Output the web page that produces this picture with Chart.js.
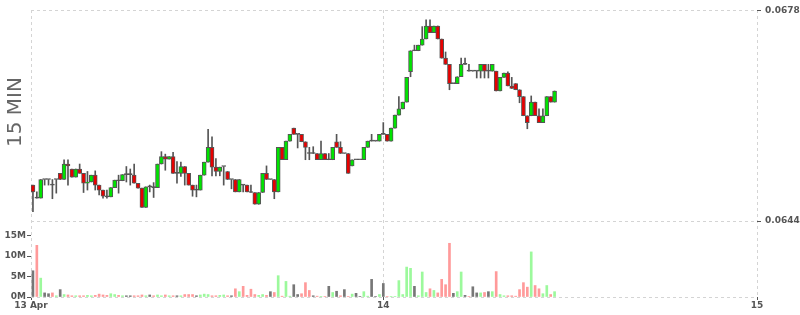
<!DOCTYPE html>
<html>
<head>
<meta charset="utf-8">
<script src="https://cdn.jsdelivr.net/npm/chart.js@4.4.1/dist/chart.umd.min.js"></script>
<style>
  html, body { margin:0; padding:0; background:#fff; }
</style>
</head>
<body>
<canvas id="chart" width="800" height="315"></canvas>
<script>
// 15 minute candles, first one 13 Apr 01:30 (hours counted from 13 Apr 00:00)
const startHour = 1.5;
const stepHours = 0.25;

const dayTicks = [1.375, 24, 48];
const dayLabels = ['13 Apr', '14', '15'];
const priceTicks = [0.0644, 0.0678];
const volumeTicks = [0, 5, 10, 15];

const open = [
  0.06498, 0.06477, 0.06477, 0.06507, 0.06507, 0.06498, 0.06507, 0.06517, 0.06507, 0.06532,
  0.06524, 0.06511, 0.06524, 0.06517, 0.06501, 0.06503, 0.06514, 0.06498, 0.06490, 0.06479,
  0.06479, 0.06494, 0.06505, 0.06505, 0.06515, 0.06515, 0.06514, 0.06501, 0.06493, 0.06462,
  0.06495, 0.06494, 0.06494, 0.06532, 0.06544, 0.06540, 0.06544, 0.06517, 0.06517, 0.06528,
  0.06517, 0.06498, 0.06490, 0.06490, 0.06514, 0.06535, 0.06559, 0.06527, 0.06520, 0.06528,
  0.06520, 0.06507, 0.06507, 0.06487, 0.06498, 0.06498, 0.06486, 0.06486, 0.06467, 0.06486,
  0.06517, 0.06507, 0.06507, 0.06487, 0.06559, 0.06539, 0.06569, 0.06590, 0.06580, 0.06580,
  0.06568, 0.06549, 0.06549, 0.06549, 0.06539, 0.06549, 0.06539, 0.06539, 0.06568, 0.06559,
  0.06549, 0.06549, 0.06529, 0.06539, 0.06539, 0.06539, 0.06559, 0.06569, 0.06569, 0.06569,
  0.06580, 0.06580, 0.06569, 0.06590, 0.06611, 0.06621, 0.06632, 0.06681, 0.06715, 0.06715,
  0.06724, 0.06734, 0.06755, 0.06744, 0.06755, 0.06734, 0.06703, 0.06693, 0.06662, 0.06662,
  0.06673, 0.06693, 0.06682, 0.06682, 0.06682, 0.06682, 0.06693, 0.06682, 0.06682, 0.06682,
  0.06650, 0.06672, 0.06679, 0.06658, 0.06662, 0.06652, 0.06641, 0.06610, 0.06610, 0.06632,
  0.06610, 0.06599, 0.06610, 0.06641, 0.06632
];
const high = [
  0.06498, 0.06487, 0.06507, 0.06507, 0.06507, 0.06507, 0.06507, 0.06517, 0.06539, 0.06539,
  0.06524, 0.06524, 0.06532, 0.06517, 0.06520, 0.06514, 0.06521, 0.06498, 0.06490, 0.06490,
  0.06494, 0.06506, 0.06514, 0.06515, 0.06528, 0.06524, 0.06532, 0.06501, 0.06493, 0.06495,
  0.06498, 0.06502, 0.06532, 0.06552, 0.06548, 0.06544, 0.06551, 0.06536, 0.06535, 0.06528,
  0.06517, 0.06498, 0.06498, 0.06514, 0.06535, 0.06588, 0.06576, 0.06541, 0.06527, 0.06528,
  0.06520, 0.06507, 0.06507, 0.06507, 0.06498, 0.06498, 0.06498, 0.06486, 0.06486, 0.06517,
  0.06529, 0.06507, 0.06507, 0.06559, 0.06559, 0.06569, 0.06580, 0.06590, 0.06580, 0.06580,
  0.06568, 0.06559, 0.06560, 0.06549, 0.06569, 0.06549, 0.06549, 0.06559, 0.06580, 0.06568,
  0.06549, 0.06549, 0.06539, 0.06539, 0.06539, 0.06559, 0.06569, 0.06580, 0.06569, 0.06580,
  0.06599, 0.06580, 0.06590, 0.06611, 0.06641, 0.06632, 0.06672, 0.06715, 0.06724, 0.06724,
  0.06754, 0.06765, 0.06765, 0.06755, 0.06755, 0.06734, 0.06713, 0.06693, 0.06662, 0.06673,
  0.06703, 0.06703, 0.06693, 0.06682, 0.06682, 0.06693, 0.06693, 0.06693, 0.06693, 0.06682,
  0.06672, 0.06679, 0.06681, 0.06672, 0.06662, 0.06652, 0.06641, 0.06610, 0.06642, 0.06632,
  0.06621, 0.06621, 0.06641, 0.06641, 0.06650
];
const low = [
  0.06455, 0.06477, 0.06477, 0.06498, 0.06498, 0.06476, 0.06485, 0.06507, 0.06507, 0.06498,
  0.06511, 0.06511, 0.06517, 0.06486, 0.06490, 0.06503, 0.06490, 0.06482, 0.06477, 0.06477,
  0.06479, 0.06494, 0.06485, 0.06505, 0.06503, 0.06498, 0.06501, 0.06493, 0.06462, 0.06462,
  0.06487, 0.06478, 0.06494, 0.06532, 0.06522, 0.06540, 0.06517, 0.06501, 0.06512, 0.06498,
  0.06498, 0.06480, 0.06479, 0.06490, 0.06514, 0.06535, 0.06513, 0.06513, 0.06513, 0.06498,
  0.06507, 0.06492, 0.06487, 0.06487, 0.06487, 0.06487, 0.06486, 0.06467, 0.06467, 0.06486,
  0.06507, 0.06507, 0.06476, 0.06487, 0.06539, 0.06539, 0.06569, 0.06580, 0.06558, 0.06568,
  0.06539, 0.06539, 0.06549, 0.06539, 0.06539, 0.06539, 0.06539, 0.06539, 0.06559, 0.06549,
  0.06549, 0.06517, 0.06529, 0.06539, 0.06539, 0.06539, 0.06559, 0.06569, 0.06569, 0.06569,
  0.06580, 0.06569, 0.06569, 0.06590, 0.06611, 0.06621, 0.06632, 0.06673, 0.06715, 0.06715,
  0.06724, 0.06734, 0.06744, 0.06744, 0.06734, 0.06703, 0.06693, 0.06652, 0.06662, 0.06662,
  0.06673, 0.06693, 0.06682, 0.06682, 0.06671, 0.06671, 0.06671, 0.06671, 0.06682, 0.06650,
  0.06650, 0.06672, 0.06658, 0.06654, 0.06652, 0.06631, 0.06610, 0.06589, 0.06610, 0.06610,
  0.06599, 0.06599, 0.06610, 0.06632, 0.06632
];
const close = [
  0.06487, 0.06477, 0.06507, 0.06507, 0.06507, 0.06498, 0.06507, 0.06507, 0.06532, 0.06529,
  0.06511, 0.06524, 0.06517, 0.06501, 0.06503, 0.06514, 0.06498, 0.06490, 0.06480, 0.06479,
  0.06494, 0.06506, 0.06505, 0.06515, 0.06515, 0.06515, 0.06501, 0.06493, 0.06462, 0.06495,
  0.06495, 0.06494, 0.06532, 0.06544, 0.06540, 0.06544, 0.06517, 0.06517, 0.06528, 0.06517,
  0.06498, 0.06490, 0.06490, 0.06514, 0.06535, 0.06559, 0.06527, 0.06520, 0.06527, 0.06528,
  0.06507, 0.06507, 0.06487, 0.06507, 0.06498, 0.06487, 0.06486, 0.06467, 0.06486, 0.06517,
  0.06507, 0.06507, 0.06487, 0.06559, 0.06539, 0.06569, 0.06580, 0.06580, 0.06580, 0.06568,
  0.06559, 0.06549, 0.06549, 0.06539, 0.06549, 0.06539, 0.06539, 0.06559, 0.06559, 0.06549,
  0.06549, 0.06517, 0.06539, 0.06539, 0.06539, 0.06559, 0.06569, 0.06569, 0.06569, 0.06580,
  0.06580, 0.06569, 0.06590, 0.06611, 0.06621, 0.06632, 0.06672, 0.06715, 0.06715, 0.06724,
  0.06734, 0.06755, 0.06744, 0.06755, 0.06734, 0.06703, 0.06693, 0.06662, 0.06662, 0.06673,
  0.06693, 0.06693, 0.06682, 0.06682, 0.06682, 0.06693, 0.06682, 0.06682, 0.06693, 0.06650,
  0.06672, 0.06679, 0.06658, 0.06654, 0.06652, 0.06641, 0.06610, 0.06599, 0.06632, 0.06610,
  0.06599, 0.06610, 0.06641, 0.06632, 0.06650
];
// volume in millions
const volume = [
  6.4, 12.6, 4.6, 1.0, 0.8, 1.0, 0.3, 1.8, 0.6, 0.5,
  0.3, 0.3, 0.3, 0.3, 0.4, 0.3, 0.4, 0.7, 0.5, 0.4,
  0.8, 0.6, 0.4, 0.3, 0.3, 0.3, 0.3, 0.3, 0.5, 0.3,
  0.5, 0.3, 0.5, 0.3, 0.5, 0.3, 0.3, 0.3, 0.3, 0.6,
  0.6, 0.6, 0.3, 0.5, 0.7, 0.6, 0.3, 0.3, 0.4, 0.5,
  0.3, 0.3, 2.0, 1.3, 2.6, 0.4, 1.9, 0.6, 0.4, 0.6,
  0.4, 1.3, 1.1, 5.2, 0.2, 3.8, 0.2, 3.0, 0.6, 0.8,
  3.5, 1.6, 0.3, 0.2, 0.1, 0.1, 2.6, 1.1, 1.4, 0.3,
  1.8, 0.1, 0.7, 0.9, 0.1, 1.3, 0.2, 4.3, 0.1, 0.6,
  3.3, 0.1, 0.1, 0.1, 4.0, 0.6, 7.3, 7.0, 2.6, 0.3,
  6.1, 1.1, 2.0, 1.6, 1.0, 4.3, 3.0, 13.1, 0.9, 1.3,
  6.1, 0.4, 0.1, 2.5, 1.0, 1.0, 1.1, 1.3, 1.3, 6.2,
  0.6, 0.3, 0.3, 0.3, 0.2, 1.8, 3.5, 2.4, 11.0, 2.8,
  2.0, 0.8, 2.8, 0.6, 1.3
];

const UP = '#00e400', DOWN = '#e80000', EDGE = '#555';
const VOL_UP = '#9cf99c', VOL_DOWN = '#ff9a9a', VOL_FLAT = '#777';
const GRID = '#d4d4d4';
const labelFont = { family: 'DejaVu Sans', size: 9, weight: 'bold' };

const times = open.map((_, i) => startHour + i * stepHours);
const bodies = open.map((o, i) => ({ x: times[i], y: [o, close[i]] }));
const wicks = open.map((o, i) => ({ x: times[i], y: [low[i], high[i]] }));
const vols = volume.map((v, i) => ({ x: times[i], y: v }));
const bodyColors = open.map((o, i) => close[i] > o ? UP : close[i] < o ? DOWN : EDGE);
// volume coloured by close against the previous close
const volColors = close.map((c, i) => i === 0 || c === close[i-1] ? VOL_FLAT : c > close[i-1] ? VOL_UP : VOL_DOWN);

const sideTitle = {
  id: 'sideTitle',
  afterDraw(chart){
    const ctx = chart.ctx;
    ctx.save();
    ctx.translate(16, 112);
    ctx.rotate(-Math.PI/2);
    ctx.font = '20px "DejaVu Sans"';
    ctx.fillStyle = '#666';
    ctx.textAlign = 'center';
    ctx.textBaseline = 'middle';
    ctx.fillText('15 MIN', 0, 0);
    ctx.restore();
  }
};

new Chart(document.getElementById('chart'), {
  type: 'bar',
  data: {
    datasets: [
      { data: bodies, yAxisID: 'price', backgroundColor: bodyColors, borderColor: EDGE, borderWidth: 1,
        borderSkipped: false, barThickness: 4, minBarLength: 1, grouped: false, order: 0 },
      { data: wicks, yAxisID: 'price', backgroundColor: EDGE, barThickness: 1, grouped: false, order: 1 },
      { data: vols, yAxisID: 'vol', backgroundColor: volColors, barThickness: 2, grouped: false, order: 2 }
    ]
  },
  options: {
    responsive: false,
    animation: false,
    layout: { padding: { top: 10, left: 0, right: 0, bottom: 0 } },
    plugins: { legend: { display: false }, tooltip: { enabled: false } },
    scales: {
      x: {
        type: 'linear', min: 1.375, max: 48, offset: false,
        afterBuildTicks: s => { s.ticks = dayTicks.map(v => ({ value: v })); },
        ticks: { callback: v => dayLabels[dayTicks.indexOf(v)], autoSkip: false, maxRotation: 0,
                 padding: 0, color: '#555', font: labelFont },
        grid: { offset: false, color: GRID, tickColor: EDGE, tickLength: 3 },
        border: { display: false, dash: [3, 3] },
        afterFit: s => { s.height = 18; }
      },
      price: {
        position: 'right', min: 0.0631725, max: 0.0678081,
        afterBuildTicks: s => { s.ticks = priceTicks.map(v => ({ value: v })); },
        ticks: { callback: v => v.toFixed(4), padding: 4, color: '#555', font: labelFont },
        grid: { color: GRID, tickColor: EDGE, tickLength: 4 },
        border: { display: false, dash: [3, 3] },
        afterFit: s => { s.width = 43; }
      },
      vol: {
        position: 'left', min: 0, max: 70,
        afterBuildTicks: s => { s.ticks = volumeTicks.map(v => ({ value: v })); },
        ticks: { callback: v => v + 'M', padding: 1, color: '#555', font: labelFont },
        grid: { color: c => (c.tick && c.tick.value === 0) ? GRID : 'rgba(0,0,0,0)', tickColor: EDGE, tickLength: 4 },
        border: { display: false, dash: [3, 3] },
        afterFit: s => { s.width = 31; }
      }
    }
  },
  plugins: [sideTitle]
});
</script>
</body>
</html>
